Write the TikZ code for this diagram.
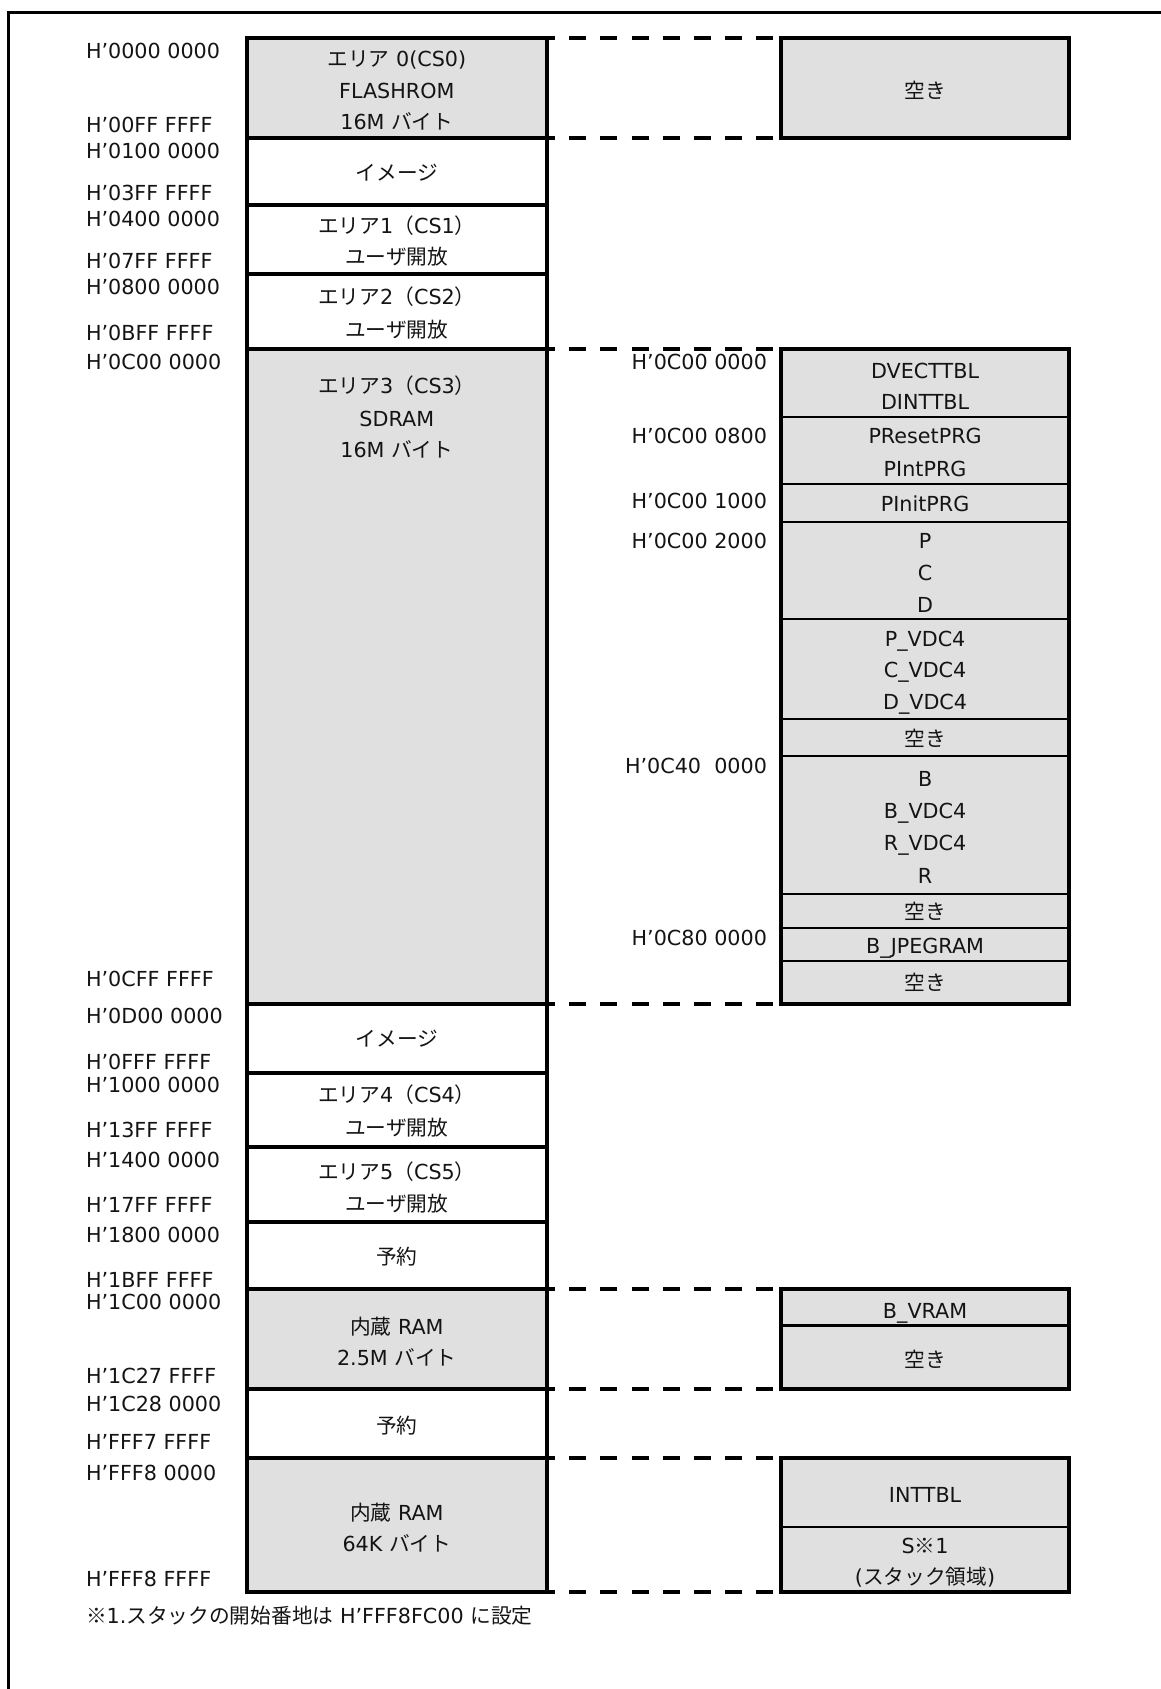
\documentclass[tikz,border=0pt]{standalone}
\usepackage{fontspec}
\setmainfont{DejaVu Sans}
\newfontfamily\jpfont{Noto Sans CJK JP}
\newcommand\jtxt[1]{{\jpfont #1}}
\usetikzlibrary{fit}
\definecolor{boxgray}{RGB}{224,224,224}
\definecolor{ink}{RGB}{20,20,20}
\begin{document}
\begin{tikzpicture}[x=1pt,y=-1pt,
  every node/.style={inner sep=0pt,outer sep=0pt},
  membox/.style={draw=black,line width=4pt},
  gbox/.style={membox,fill=boxgray},
  subbox/.style={draw=black,line width=2pt,fill=boxgray},
  frame/.style={draw=black,line width=4pt},
  txt/.style={anchor=base,text=ink,font=\fontsize{20.7pt}{24pt}\selectfont},
  laddr/.style={anchor=base west,text=ink,font=\fontsize{20.7pt}{24pt}\selectfont},
  raddr/.style={anchor=base east,text=ink,font=\fontsize{20.7pt}{24pt}\selectfont},
  conn/.style={draw=black,line width=4pt,dash pattern=on 17pt off 14.2pt,dash phase=11pt,shorten <=2pt,shorten >=2pt},
]
\useasboundingbox (0,0) rectangle (1161,1689);
% outer frame (only top and left edges lie inside the page)
\draw[line width=3.5pt] (1161,12.3) -- (8.3,12.3) -- (8.3,1689);

% ---------- left column ----------
\node[fit={(246.6,37.7) (547,137.9)},gbox] (a0) {};
\node[fit={(246.6,137.9) (547,204.6)},membox] (a1) {};
\node[fit={(246.6,204.6) (547,273.6)},membox] (a2) {};
\node[fit={(246.6,273.6) (547,348.9)},membox] (a3) {};
\node[fit={(246.6,348.9) (547,1003.8)},gbox] (a4) {};
\node[fit={(246.6,1003.8) (547,1072.7)},membox] (a5) {};
\node[fit={(246.6,1072.7) (547,1147.0)},membox] (a6) {};
\node[fit={(246.6,1147.0) (547,1222.4)},membox] (a7) {};
\node[fit={(246.6,1222.4) (547,1289.2)},membox] (a8) {};
\node[fit={(246.6,1289.2) (547,1389.3)},gbox] (a9) {};
\node[fit={(246.6,1389.3) (547,1458.2)},membox] (a10) {};
\node[fit={(246.6,1458.2) (547,1591.8)},gbox] (a11) {};

\node[txt] (ta0a) at (396.8,66.7) {\jtxt{エリア} 0(CS0)};
\node[txt] (ta0b) at (396.8,98.0) {FLASHROM};
\node[txt] (ta0c) at (396.8,129.2) {16M \jtxt{バイト}};
\node[txt] (ta1) at (396.8,180.9) {\jtxt{イメージ}};
\node[txt] (ta2a) at (396.8,233.7) {\jtxt{エリア}1\jtxt{（}CS1\jtxt{）}};
\node[txt] (ta2b) at (396.8,264.9) {\jtxt{ユーザ開放}};
\node[txt] (ta3a) at (396.8,304.8) {\jtxt{エリア}2\jtxt{（}CS2\jtxt{）}};
\node[txt] (ta3b) at (396.8,337.1) {\jtxt{ユーザ開放}};
\node[txt] (ta4a) at (396.8,393.1) {\jtxt{エリア}3\jtxt{（}CS3\jtxt{）}};
\node[txt] (ta4b) at (396.8,426.5) {SDRAM};
\node[txt] (ta4c) at (396.8,457.7) {16M \jtxt{バイト}};
\node[txt] (ta5) at (396.8,1046.8) {\jtxt{イメージ}};
\node[txt] (ta6a) at (396.8,1102.8) {\jtxt{エリア}4\jtxt{（}CS4\jtxt{）}};
\node[txt] (ta6b) at (396.8,1135.1) {\jtxt{ユーザ開放}};
\node[txt] (ta7a) at (396.8,1179.3) {\jtxt{エリア}5\jtxt{（}CS5\jtxt{）}};
\node[txt] (ta7b) at (396.8,1211.6) {\jtxt{ユーザ開放}};
\node[txt] (ta8) at (396.8,1264.4) {\jtxt{予約}};
\node[txt] (ta9a) at (396.8,1334.4) {\jtxt{内蔵} RAM};
\node[txt] (ta9b) at (396.8,1365.6) {2.5M \jtxt{バイト}};
\node[txt] (ta10) at (396.8,1433.5) {\jtxt{予約}};
\node[txt] (ta11a) at (396.8,1520.7) {\jtxt{内蔵} RAM};
\node[txt] (ta11b) at (396.8,1551.9) {64K \jtxt{バイト}};

% ---------- left addresses ----------
\node[laddr] (h1) at (86,58.1) {H’0000 0000};
\node[laddr] (h2) at (86,132.4) {H’00FF FFFF};
\node[laddr] (h3) at (86,158.3) {H’0100 0000};
\node[laddr] (h4) at (86,200.3) {H’03FF FFFF};
\node[laddr] (h5) at (86,226.1) {H’0400 0000};
\node[laddr] (h6) at (86,268.1) {H’07FF FFFF};
\node[laddr] (h7) at (86,294.0) {H’0800 0000};
\node[laddr] (h8) at (86,340.3) {H’0BFF FFFF};
\node[laddr] (h9) at (86,369.4) {H’0C00 0000};
\node[laddr] (h10) at (86,986.5) {H’0CFF FFFF};
\node[laddr] (h11) at (86,1023.1) {H’0D00 0000};
\node[laddr] (h12) at (86,1069.4) {H’0FFF FFFF};
\node[laddr] (h13) at (86,1092.0) {H’1000 0000};
\node[laddr] (h14) at (86,1137.3) {H’13FF FFFF};
\node[laddr] (h15) at (86,1167.4) {H’1400 0000};
\node[laddr] (h16) at (86,1212.6) {H’17FF FFFF};
\node[laddr] (h17) at (86,1242.8) {H’1800 0000};
\node[laddr] (h18) at (86,1287.0) {H’1BFF FFFF};
\node[laddr] (h19) at (86,1309.6) {H’1C00 0000};
\node[laddr] (h20) at (86,1383.9) {H’1C27 FFFF};
\node[laddr] (h21) at (86,1411.9) {H’1C28 0000};
\node[laddr] (h22) at (86,1449.6) {H’FFF7 FFFF};
\node[laddr] (h23) at (86,1480.8) {H’FFF8 0000};
\node[laddr] (h24) at (86,1586.4) {H’FFF8 FFFF};
\node[laddr] (note) at (86,1623.0) {\jtxt{※}1.\jtxt{スタックの開始番地は} H’FFF8FC00 \jtxt{に設定}};

% ---------- right column ----------
\node[fit={(780.8,37.7) (1069.4,137.9)},gbox] (r0) {};
\node[txt] (tr0) at (925.1,98.0) {\jtxt{空き}};

\node[fit={(780.8,348.9) (1069.4,416.8)},subbox] (s1) {};
\node[fit={(780.8,416.8) (1069.4,483.6)},subbox] (s2) {};
\node[fit={(780.8,483.6) (1069.4,522.3)},subbox] (s3) {};
\node[fit={(780.8,522.3) (1069.4,619.3)},subbox] (s4) {};
\node[fit={(780.8,619.3) (1069.4,719.4)},subbox] (s5) {};
\node[fit={(780.8,719.4) (1069.4,756.0)},subbox] (s6) {};
\node[fit={(780.8,756.0) (1069.4,893.9)},subbox] (s7) {};
\node[fit={(780.8,893.9) (1069.4,928.4)},subbox] (s8) {};
\node[fit={(780.8,928.4) (1069.4,960.7)},subbox] (s9) {};
\node[fit={(780.8,960.7) (1069.4,1003.8)},subbox] (s10) {};
\node[fit={(780.8,348.9) (1069.4,1003.8)},membox] (big) {};

\node[txt] (ts1a) at (925.1,378.0) {DVECTTBL};
\node[txt] (ts1b) at (925.1,409.2) {DINTTBL};
\node[txt] (ts2a) at (925.1,443.7) {PResetPRG};
\node[txt] (ts2b) at (925.1,476.0) {PIntPRG};
\node[txt] (ts3) at (925.1,511.5) {PInitPRG};
\node[txt] (ts4a) at (925.1,548.2) {P};
\node[txt] (ts4b) at (925.1,580.5) {C};
\node[txt] (ts4c) at (925.1,612.8) {D};
\node[txt] (ts5a) at (925.1,646.2) {P\_VDC4};
\node[txt] (ts5b) at (925.1,677.4) {C\_VDC4};
\node[txt] (ts5c) at (925.1,709.7) {D\_VDC4};
\node[txt] (ts6) at (925.1,746.3) {\jtxt{空き}};
\node[txt] (ts7a) at (925.1,786.2) {B};
\node[txt] (ts7b) at (925.1,818.5) {B\_VDC4};
\node[txt] (ts7c) at (925.1,850.8) {R\_VDC4};
\node[txt] (ts7d) at (925.1,883.1) {R};
\node[txt] (ts8) at (925.1,919.7) {\jtxt{空き}};
\node[txt] (ts9) at (925.1,953.1) {B\_JPEGRAM};
\node[txt] (ts10) at (925.1,990.8) {\jtxt{空き}};

\node[raddr] (g1) at (767,369.4) {H’0C00 0000};
\node[raddr] (g2) at (767,443.7) {H’0C00 0800};
\node[raddr] (g3) at (767,508.3) {H’0C00 1000};
\node[raddr] (g4) at (767,548.2) {H’0C00 2000};
\node[raddr] (g5) at (767,773.2) {H’0C40\ \ 0000};
\node[raddr] (g6) at (767,945.5) {H’0C80 0000};

\node[fit={(780.8,1289.2) (1069.4,1325.8)},subbox,line width=3pt] (v1) {};
\node[fit={(780.8,1325.8) (1069.4,1389.3)},subbox,line width=3pt] (v2) {};
\node[fit={(780.8,1289.2) (1069.4,1389.3)},membox] (vr) {};
\node[txt] (tv1) at (925.1,1318.2) {B\_VRAM};
\node[txt] (tv2) at (925.1,1367.7) {\jtxt{空き}};

\node[fit={(780.8,1458.2) (1069.4,1526.7)},subbox] (i1) {};
\node[fit={(780.8,1526.7) (1069.4,1591.8)},subbox] (i2) {};
\node[fit={(780.8,1458.2) (1069.4,1591.8)},membox] (it) {};
\node[txt] (ti1) at (925.1,1502.4) {INTTBL};
\node[txt] (ti2a) at (925.1,1553.0) {S\jtxt{※}1};
\node[txt] (ti2b) at (925.1,1584.2) {(\jtxt{スタック領域})};

% ---------- dashed connectors ----------
\draw[conn] (a0.north east) -- (r0.north west);
\draw[conn] (a0.south east) -- (r0.south west);
\draw[conn] (a4.north east) -- (big.north west);
\draw[conn] (a4.south east) -- (big.south west);
\draw[conn] (a9.north east) -- (vr.north west);
\draw[conn] (a9.south east) -- (vr.south west);
\draw[conn] (a11.north east) -- (it.north west);
\draw[conn] (a11.south east) -- (it.south west);
\end{tikzpicture}
\end{document}
